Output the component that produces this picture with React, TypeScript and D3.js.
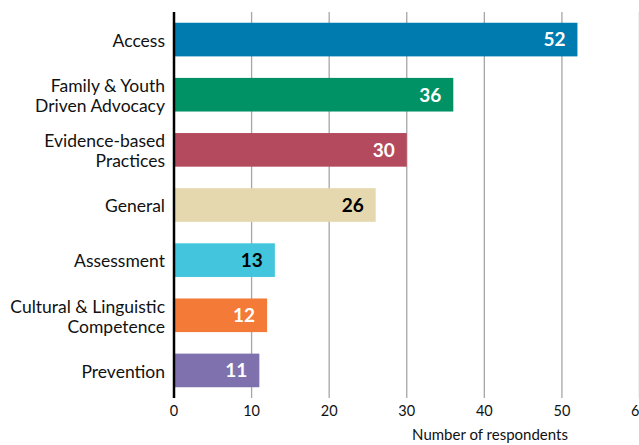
import React from "react";
import * as d3 from "d3";

const categories = [
  "Access",
  "Family & Youth\nDriven Advocacy",
  "Evidence-based\nPractices",
  "General",
  "Assessment",
  "Cultural & Linguistic\nCompetence",
  "Prevention",
];
const values = [52, 36, 30, 26, 13, 12, 11];
const colors = ["#007BB0", "#009264", "#B44A5E", "#E6D8AE", "#42C5DD", "#F47B37", "#7F71AE"];
const labelColors = ["#fff", "#fff", "#fff", "#000", "#000", "#fff", "#fff"];
const xTicks = [0, 10, 20, 30, 40, 50, 60];
const xTitle = "Number of respondents";

const W = 639;
const H = 445;
const FONT = "Lato, 'Open Sans', sans-serif";

export default function App() {
  const x = d3.scaleLinear().domain([0, 60]).range([174, 639.5]);
  const y = d3
    .scaleBand<number>()
    .domain(d3.range(categories.length))
    .range([12, 398])
    .paddingInner(0.39)
    .paddingOuter(0.195);
  const bw = y.bandwidth();

  return (
    <svg
      width={W}
      height={H}
      style={{ position: "absolute", left: 0, top: 0, background: "#fff" }}
      fontFamily={FONT}
    >
      {xTicks.map((t) =>
        t === 0 ? null : (
          <line key={"g" + t} x1={x(t)} x2={x(t)} y1={12} y2={398} stroke="#a6a6a6" strokeWidth={1.3} />
        )
      )}
      {values.map((v, i) => (
        <g key={i}>
          <rect x={x(0)} y={y(i)} width={x(v) - x(0)} height={bw} fill={colors[i]} />
          <text
            x={x(v) - 12}
            y={(y(i) as number) + bw / 2}
            dy="0.36em"
            textAnchor="end"
            fontSize={19}
            fontWeight="bold"
            fill={labelColors[i]}
          >
            {v}
          </text>
          {(() => {
            const lines = categories[i].split("\n");
            const cy = (y(i) as number) + bw / 2;
            const lh = 20;
            return (
              <text textAnchor="end" fontSize={17.5} fill="#111">
                {lines.map((l, k) => (
                  <tspan key={k} x={165} y={cy + 1 + (k - (lines.length - 1) / 2) * lh} dy="0.36em">
                    {l}
                  </tspan>
                ))}
              </text>
            );
          })()}
        </g>
      ))}
      <line x1={x(0)} x2={x(0)} y1={12} y2={398} stroke="#000" strokeWidth={2.5} />
      {xTicks.map((t) => (
        <text key={"t" + t} x={x(t)} y={416} textAnchor="middle" fontSize={14.5} fill="#111">
          {t}
        </text>
      ))}
      <text x={490} y={440} textAnchor="middle" fontSize={15} fill="#111">
        {xTitle}
      </text>
    </svg>
  );
}
